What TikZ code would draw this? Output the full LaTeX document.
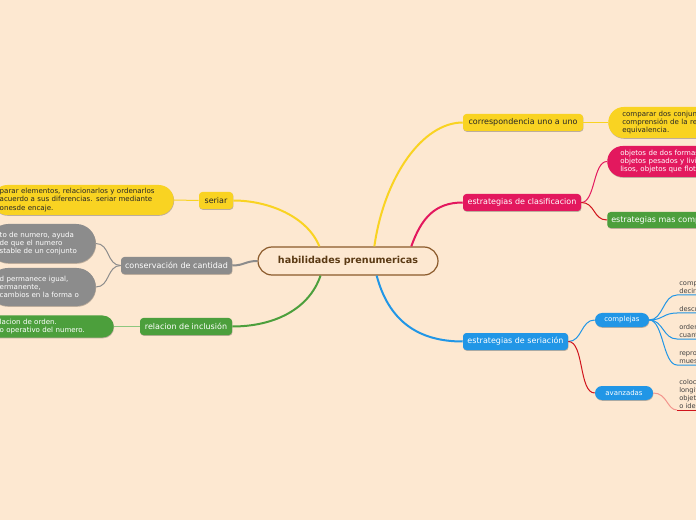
\documentclass[tikz,border=0pt]{standalone}
\usepackage{fontspec}
\setmainfont{DejaVu Sans}
\usepackage{xcolor}
\usepackage{tikz}
\usetikzlibrary{positioning,shadows}
\definecolor{bgpeach}{HTML}{FDE8D1}
\definecolor{ylw}{HTML}{F9D322}
\definecolor{pnk}{HTML}{E3185E}
\definecolor{grn}{HTML}{4C9F3C}
\definecolor{lgrn}{HTML}{8DC77F}
\definecolor{blu}{HTML}{2196E6}
\definecolor{gry}{HTML}{8C8C8C}
\definecolor{brn}{HTML}{8B5A2B}
\definecolor{brntxt}{HTML}{5B3A14}
\definecolor{redl}{HTML}{D0141C}
\definecolor{salm}{HTML}{F3968E}

\begin{document}
\begin{tikzpicture}[x=0.75pt,y=-0.75pt,
  shade/.style={drop shadow={shadow xshift=0.3pt,shadow yshift=-0.6pt,opacity=0.25,fill=black}},
  topic/.style={shade,rounded corners=2.5pt,minimum height=12.75pt,inner sep=0pt,font=\fontsize{6}{7.2}\selectfont,text=white},
  pill/.style={shade,inner ysep=0pt,align=left,font=\fontsize{5.3}{6.2}\selectfont,text=white},
  sub/.style={shade,fill=blu,rounded corners=5.25pt,minimum height=10.5pt,inner sep=0pt,font=\fontsize{5.2}{6}\selectfont,text=white},
  twig/.style={anchor=south west,inner xsep=1.5pt,inner ysep=1.2pt,text width=30pt,align=left,font=\fontsize{5}{5.9}\selectfont,text=black!75},
  branch/.style={line width=1.5pt},
  twigline/.style={line width=0.75pt}]
  \useasboundingbox (0,0) rectangle (696,520);
  \fill[bgpeach] (0,0) rectangle (696,520);
  \clip (0,0) rectangle (696,520);

  \node[draw=brn,line width=0.9pt,fill=bgpeach,rounded corners=10.5pt,minimum width=135pt,minimum height=21pt,font=\fontsize{7.2}{8}\selectfont\bfseries,text=brntxt] (hab) at (348,261) {habilidades prenumericas};

  \node[topic,fill=ylw,text=black!85,minimum width=90pt] (corr) at (523,122.5) {correspondencia uno a uno};
  \node[topic,fill=pnk,minimum width=88.5pt] (clasif) at (522,202.5) {estrategias de clasificacion};
  \node[topic,fill=blu,minimum width=78.75pt] (seria) at (515.5,341.5) {estrategias de seriación};
  \node[topic,fill=ylw,text=black!85,minimum width=25.5pt] (seriar) at (216,200.5) {seriar};
  \node[topic,fill=gry,minimum width=83.25pt] (conserv) at (176.5,265.5) {conservación de cantidad};
  \node[topic,fill=grn,minimum width=69pt] (incl) at (186,326.5) {relacion de inclusión};
  \node[topic,fill=grn,anchor=west,inner xsep=3pt,minimum height=12pt] (masc) at (607,220) {estrategias mas comp};

  \node[pill,fill=ylw,text=black!85,anchor=west,rounded corners=11.6pt,minimum height=23.25pt,inner xsep=10.5pt,text width=80pt] (corrleaf) at (608,122.5) {comparar dos conjun\\comprensión de la re\\equivalencia.};
  \node[pill,fill=pnk,anchor=west,rounded corners=11.6pt,minimum height=23.25pt,inner xsep=9.75pt,text width=80pt] (clasleaf) at (607,161.5) {objetos de dos formas\\objetos pesados y livi\\lisos, objetos que flot};
  \node[pill,fill=ylw,text=black!85,anchor=east,rounded corners=11.25pt,minimum height=22.5pt,inner xsep=5.5pt,text width=125pt] (seriarleaf) at (174,200) {parar elementos, relacionarlos y ordenarlos\\acuerdo a sus diferencias. seriar mediante\\onesde encaje.};
  \node[pill,fill=gry,anchor=east,rounded corners=14.6pt,minimum height=29.25pt,inner xsep=8.25pt,text width=63.75pt] (conservup) at (96,243.5) {to de numero, ayuda\\de que el numero\\stable de un conjunto};
  \node[pill,fill=gry,anchor=east,rounded corners=14.25pt,minimum height=28.5pt,inner xsep=8.25pt,text width=63.75pt] (conservlo) at (96,287) {d permanece igual,\\ermanente,\\cambios en la forma o};
  \node[pill,fill=grn,anchor=east,rounded corners=8.25pt,minimum height=16.5pt,inner xsep=14.25pt,text width=71.25pt] (inclleaf) at (114,326.5) {lacion de orden.\\o operativo del numero.};

  \node[sub,minimum width=40.5pt] (compl) at (622,320) {complejas};
  \node[sub,minimum width=43.5pt] (avanz) at (624,393) {avanzadas};
  \node[twig] (c1) at (677,295) {compa\\decir};
  \node[twig] (c2) at (677,313) {descu};
  \node[twig] (c3) at (677,339) {orden\\cuant};
  \node[twig] (c4) at (677,365) {repro\\muest};
  \node[twig] (a1) at (677,410) {coloca\\longit\\objet\\o ide};

  \draw[branch,ylw] (hab.29) .. controls +(10,-70) and +(-40,0) .. (corr.west);
  \draw[branch,pnk] (hab.13) .. controls +(10,-28) and +(-28,0) .. (clasif.west);
  \draw[branch,blu] (hab.-27) .. controls +(12,45) and +(-45,0) .. (seria.west);
  \draw[branch,ylw] (hab.153) .. controls +(-12,-30) and +(35,0) .. (seriar.east);
  \draw[branch,gry] (hab.west) .. controls +(-12,0) and +(12,0) .. (conserv.east);
  \draw[branch,grn] (hab.208) .. controls +(-12,35) and +(40,0) .. (incl.east);

  \draw[twigline,ylw] (corr.east) -- (corrleaf.west);
  \draw[twigline,pnk] (clasif.east) .. controls +(14,0) and +(-14,0) .. (clasleaf.west);
  \draw[twigline,redl] (clasif.east) .. controls +(14,0) and +(-14,0) .. (masc.west);
  \draw[twigline,blu] (seria.east) .. controls +(14,0) and +(-14,0) .. (compl.west);
  \draw[twigline,redl] (seria.east) .. controls +(16,0) and +(-16,0) .. (avanz.west);
  \foreach \t in {c1,c2,c3,c4}
    \draw[twigline,blu] (compl.east) .. controls +(14,0) and +(-14,0) .. (\t.south west) -- (\t.south east);
  \draw[twigline,salm] (avanz.east) .. controls +(14,0) and +(-10,0) .. (a1.south west);
  \draw[twigline,redl] (a1.south west) -- (a1.south east);
  \draw[twigline,ylw] (seriar.west) -- (seriarleaf.east);
  \draw[twigline,gry] (conserv.west) .. controls +(-14,0) and +(14,0) .. (conservup.east);
  \draw[twigline,gry] (conserv.west) .. controls +(-14,0) and +(14,0) .. (conservlo.east);
  \draw[twigline,lgrn] (incl.west) -- (inclleaf.east);
\end{tikzpicture}
\end{document}
